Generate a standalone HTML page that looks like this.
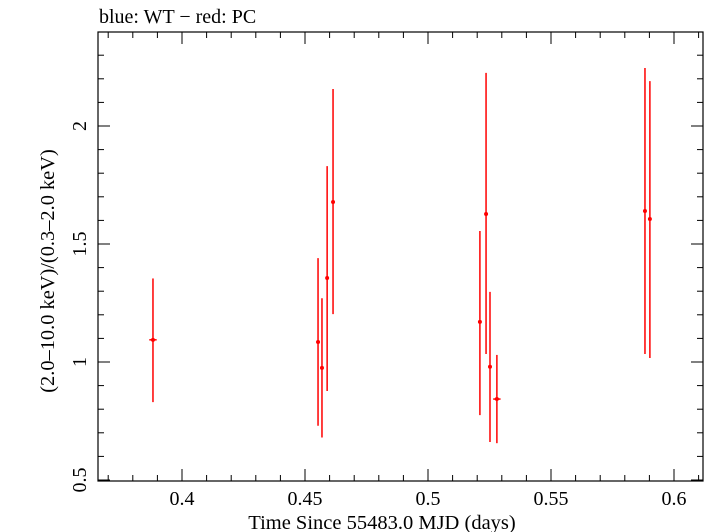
<!DOCTYPE html>
<html><head><meta charset="utf-8"><style>
body{margin:0;background:#fff}
svg{display:block;font-family:"Liberation Serif",serif}
</style></head><body>
<svg id="chart" width="705" height="532" viewBox="0 0 705 532" xmlns="http://www.w3.org/2000/svg">
<text x="99" y="23" font-size="20">blue: WT − red: PC</text>
<rect x="98" y="32" width="605" height="449" fill="none" stroke="#000" stroke-width="1.2"/>
<g id="ticks"></g>
<g id="marks"></g>
<text x="382" y="529" font-size="20.5" text-anchor="middle">Time Since 55483.0 MJD (days)</text>
<text transform="translate(54,271) rotate(-90)" font-size="20.4" text-anchor="middle">(2.0–10.0 keV)/(0.3–2.0 keV)</text>
</svg>
<script>
const times=[0.3882,0.4553,0.4569,0.4590,0.4614,0.5211,0.5236,0.5252,0.5280,0.5882,0.5902];
const ratios=[1.094,1.085,0.975,1.356,1.678,1.170,1.627,0.980,0.843,1.640,1.606];
const errHigh=[1.354,1.440,1.270,1.830,2.157,1.555,2.225,1.297,1.030,2.246,2.190];
const errLow=[0.830,0.730,0.680,0.877,1.203,0.775,1.034,0.661,0.656,1.034,1.017];
const xErr=[0.0015,0.0006,0.0006,0.0006,0.0006,0.0006,0.0006,0.0006,0.0015,0.0006,0.0006];
const xTicks=[0.4,0.45,0.5,0.55,0.6];
const yTicks=[0.5,1,1.5,2];
const NS="http://www.w3.org/2000/svg";
const L=98,R=703,T=32,B=481;
const xs=v=>182+(v-0.4)*2460;
const ys=v=>362-(v-1)*236;
function mk(tag,attrs,parent){const e=document.createElementNS(NS,tag);for(const k in attrs)e.setAttribute(k,attrs[k]);parent.appendChild(e);return e;}
const tg=document.getElementById('ticks');
for(let i=37;i<=61;i++){const v=i/100;const x=xs(v);if(x<L||x>R)continue;const major=i%5===0;const len=major?12:6;
 let t=mk('line',{x1:x,x2:x,y1:B,y2:B-len,stroke:'#000','stroke-width':1},tg);
 
 t=mk('line',{x1:x,x2:x,y1:T,y2:T+len,stroke:'#000','stroke-width':1},tg);
 }
for(let i=5;i<=23;i++){const v=i/10;const y=ys(v);if(y<T||y>B+1)continue;const major=i%5===0;const len=major?12:6;
 let t=mk('line',{x1:L,x2:L+len,y1:y,y2:y,stroke:'#000','stroke-width':1},tg);
 
 t=mk('line',{x1:R,x2:R-len,y1:y,y2:y,stroke:'#000','stroke-width':1},tg);
 }
xTicks.forEach(v=>{const t=mk('text',{x:xs(v),y:505,'font-size':20,'text-anchor':'middle'},tg);t.textContent=String(v);
 });
yTicks.forEach(v=>{const y=ys(v);const t=mk('text',{transform:`translate(86,${y}) rotate(-90)`,'font-size':20,'text-anchor':'middle'},tg);t.textContent=String(v);
 });
const mg=document.getElementById('marks');
times.forEach((t,i)=>{const x=xs(t),y=ys(ratios[i]);
 const g=mk('g',{},mg);
 
 mk('line',{x1:x,x2:x,y1:ys(errHigh[i]),y2:ys(errLow[i]),stroke:'#f00','stroke-width':1.5},g);
 mk('line',{x1:xs(t-xErr[i]),x2:xs(t+xErr[i]),y1:y,y2:y,stroke:'#f00','stroke-width':1.5},g);
 mk('circle',{cx:x,cy:y,r:2,fill:'#f00'},g);});
</script>
</body></html>
